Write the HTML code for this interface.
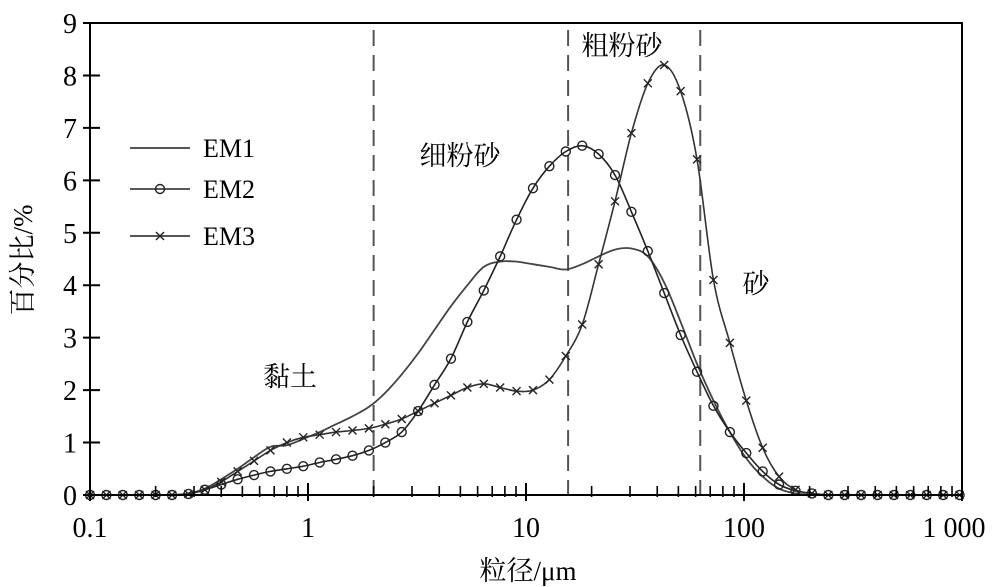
<!DOCTYPE html>
<html><head><meta charset="utf-8"><style>
html,body{margin:0;padding:0;background:#fff;}
svg{display:block;font-family:"Liberation Serif","Noto Serif CJK SC",serif;}
</style></head><body>
<svg id="chart" width="1000" height="587" viewBox="0 0 1000 587">
<g id="grid-lines"></g>
<g id="series"></g>
<g id="axes"></g>
<text x="290" y="386" font-size="27" text-anchor="middle">黏土</text>
<text x="460" y="165" font-size="27" text-anchor="middle">细粉砂</text>
<text x="622" y="55" font-size="27" text-anchor="middle">粗粉砂</text>
<text x="756" y="293" font-size="27" text-anchor="middle">砂</text>
<text x="528" y="580" font-size="27" text-anchor="middle">粒径/μm</text>
<text transform="translate(32,260) rotate(-90)" font-size="27" text-anchor="middle">百分比/%</text>
<g>
<line x1="130" y1="148" x2="190" y2="148" stroke="#555" stroke-width="2"/>
<text x="203" y="157" font-size="26">EM1</text>
<line x1="130" y1="189" x2="190" y2="189" stroke="#222" stroke-width="1.6"/>
<circle cx="160" cy="189" r="4.5" fill="none" stroke="#222" stroke-width="1.4"/>
<text x="203" y="198" font-size="26">EM2</text>
<line x1="130" y1="236" x2="190" y2="236" stroke="#555" stroke-width="2"/>
<path d="M156 232L164 240M164 232L156 240" stroke="#222" stroke-width="1.4"/>
<text x="203" y="245" font-size="26">EM3</text>
</g>
</svg>
<script>
const binIndex = [];
for (let i = 0; i < 54; i++) binIndex.push(i);
const sizes = binIndex.map(i => 0.1 * Math.pow(10, i * 0.07526));
const em1 = [0,0,0,0,0,0,0.03,0.12,0.3,0.5,0.72,0.92,0.95,1.07,1.2,1.35,1.5,1.68,1.95,2.3,2.7,3.15,3.6,4.0,4.35,4.45,4.45,4.4,4.35,4.3,4.4,4.55,4.68,4.7,4.55,4.05,3.3,2.5,1.8,1.2,0.7,0.35,0.12,0.03,0,0,0,0,0,0,0,0,0,0];
const em2 = [0,0,0,0,0,0,0.02,0.1,0.2,0.3,0.38,0.45,0.5,0.55,0.62,0.68,0.75,0.85,1.0,1.2,1.6,2.1,2.6,3.3,3.9,4.55,5.25,5.85,6.27,6.55,6.66,6.5,6.1,5.4,4.65,3.85,3.05,2.35,1.7,1.2,0.8,0.45,0.2,0.08,0.03,0,0,0,0,0,0,0,0,0];
const em3 = [0,0,0,0,0,0,0.02,0.1,0.25,0.45,0.65,0.85,1.0,1.1,1.15,1.2,1.23,1.27,1.35,1.45,1.6,1.75,1.9,2.05,2.12,2.05,1.98,2.0,2.2,2.65,3.25,4.4,5.6,6.9,7.85,8.2,7.7,6.4,4.1,2.9,1.8,0.9,0.35,0.1,0.03,0,0,0,0,0,0,0,0,0];
const yTicks = [0,1,2,3,4,5,6,7,8,9];
const xMajor = [0.1,1,10,100,1000];
const xMajorLabels = ["0.1","1","10","100","1 000"];
const boundaries = [2,15.6,63];

const L=90,R=962,T=23,B=495;
const X = v => L + (R-L)*(Math.log10(v)+1)/4;
const Y = v => B - (B-T)*v/9;
const NS="http://www.w3.org/2000/svg";
function mk(tag, attrs, parent){const e=document.createElementNS(NS,tag);for(const k in attrs)e.setAttribute(k,attrs[k]);parent.appendChild(e);return e;}
const axes=document.getElementById('axes'), ser=document.getElementById('series'), gl=document.getElementById('grid-lines');

boundaries.forEach(b=>{
  const l=mk('line',{x1:X(b),x2:X(b),y1:30,y2:B,stroke:'#555','stroke-width':2,'stroke-dasharray':'16 9'},gl);
  
  
});

const frame=mk('rect',{x:L,y:T,width:R-L,height:B-T,fill:'none',stroke:'#000','stroke-width':2},axes);


yTicks.forEach(t=>{
  const y=Y(t);
  const tk=mk('line',{x1:L-7,x2:L+10,y1:y,y2:y,stroke:'#000','stroke-width':2},axes);
  
  
  const tx=mk('text',{x:L-20,y:y+10,'font-size':28,'text-anchor':'middle'},axes);
  tx.textContent=t;
  
  
});
xMajor.forEach((v,i)=>{
  const x=X(v);
  const tk=mk('line',{x1:x,x2:x,y1:B-12,y2:B+6,stroke:'#000','stroke-width':2},axes);
  
  
  const tx=mk('text',{x:i==4?x-8:x,y:B+42,'font-size':28,'text-anchor':'middle'},axes);
  tx.textContent=xMajorLabels[i];
  
  
  if(i<4){for(let m=2;m<10;m++){
    const mx=X(v*m);
    const mt=mk('line',{x1:mx,x2:mx,y1:B-9,y2:B+2,stroke:'#000','stroke-width':1.6},axes);
    
    
  }}
});

function smooth(vals){
  const p=vals.map((v,i)=>[X(sizes[i]),Y(v)]);
  let d='M'+p[0][0].toFixed(1)+' '+p[0][1].toFixed(1);
  for(let i=0;i<p.length-1;i++){
    const p0=p[Math.max(0,i-1)],p1=p[i],p2=p[i+1],p3=p[Math.min(p.length-1,i+2)];
    const c1=[p1[0]+(p2[0]-p0[0])/6,p1[1]+(p2[1]-p0[1])/6];
    const c2=[p2[0]-(p3[0]-p1[0])/6,p2[1]-(p3[1]-p1[1])/6];
    d+=`C${c1[0].toFixed(1)} ${c1[1].toFixed(1)} ${c2[0].toFixed(1)} ${c2[1].toFixed(1)} ${p2[0].toFixed(1)} ${p2[1].toFixed(1)}`;
  }
  return d;
}
const l1=mk('path',{d:smooth(em1),fill:'none',stroke:'#444','stroke-width':1.8},ser);


const l2=mk('path',{d:smooth(em2),fill:'none',stroke:'#222','stroke-width':1.6},ser);


const l3=mk('path',{d:smooth(em3),fill:'none',stroke:'#333','stroke-width':1.6},ser);


em2.forEach((v,i)=>{
  const c=mk('circle',{cx:X(sizes[i]),cy:Y(v),r:4.5,fill:'none',stroke:'#222','stroke-width':1.4},ser);
  
  
});
em3.forEach((v,i)=>{
  const x=X(sizes[i]),y=Y(v);
  const m=mk('path',{d:`M${x-4} ${y-4}L${x+4} ${y+4}M${x+4} ${y-4}L${x-4} ${y+4}`,stroke:'#222','stroke-width':1.4},ser);
  
  
});
</script>
</body></html>
